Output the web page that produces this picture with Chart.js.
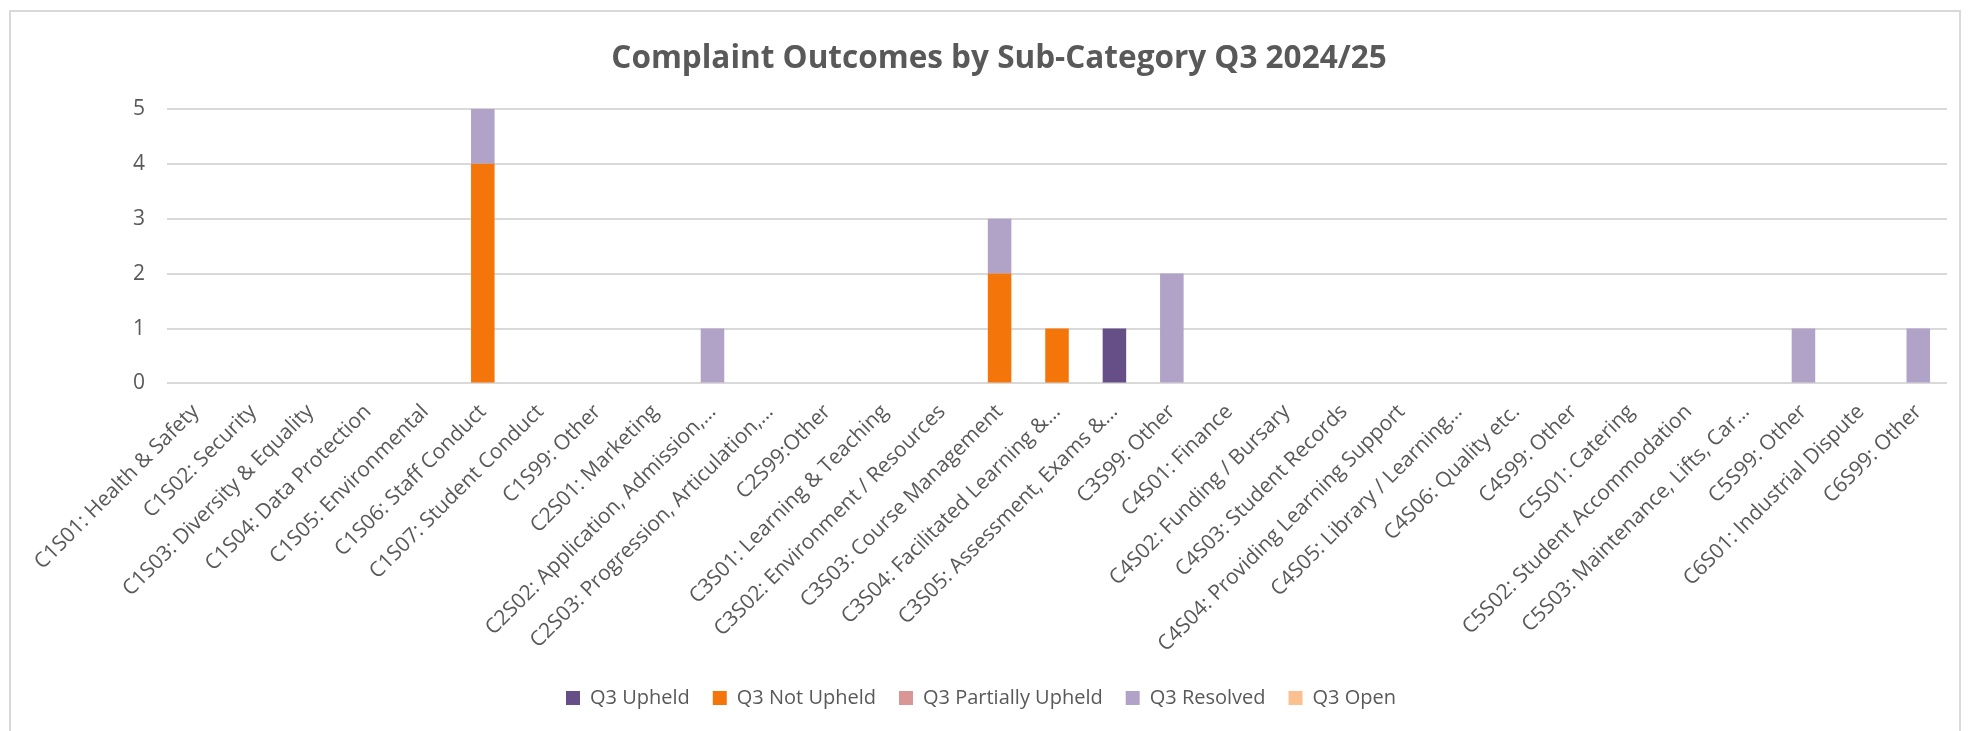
<!DOCTYPE html>
<html>
<head>
<meta charset="utf-8">
<script src="https://cdn.jsdelivr.net/npm/chart.js@4/dist/chart.umd.min.js"></script>
<style>
  html, body { margin: 0; padding: 0; background: #ffffff; overflow: hidden; }
  #wrap { position: relative; width: 1972px; height: 731px; }
  #frame { position: absolute; left: 9px; top: 10px; width: 1952px; height: 730px; border: 2px solid #d9d9d9; box-sizing: border-box; pointer-events: none; }
  canvas { position: absolute; left: 0; top: 0; }
</style>
</head>
<body>
<div id="wrap">
  <canvas id="c" width="1972" height="731"></canvas>
  <div id="frame"></div>
</div>
<script>
const categories = [
  "C1S01: Health & Safety", "C1S02: Security", "C1S03: Diversity & Equality", "C1S04: Data Protection",
  "C1S05: Environmental", "C1S06: Staff Conduct", "C1S07: Student Conduct", "C1S99: Other",
  "C2S01: Marketing", "C2S02: Application, Admission,…", "C2S03: Progression, Articulation,…", "C2S99:Other",
  "C3S01: Learning & Teaching", "C3S02: Environment / Resources", "C3S03: Course Management",
  "C3S04: Facilitated Learning &…", "C3S05: Assessment, Exams &…", "C3S99: Other",
  "C4S01: Finance", "C4S02: Funding / Bursary", "C4S03: Student Records", "C4S04: Providing Learning Support",
  "C4S05: Library / Learning…", "C4S06: Quality etc.", "C4S99: Other",
  "C5S01: Catering", "C5S02: Student Accommodation", "C5S03: Maintenance, Lifts, Car…", "C5S99: Other",
  "C6S01: Industrial Dispute", "C6S99: Other"
];
const q3Upheld =          [0,0,0,0,0,0,0,0, 0,0,0,0, 0,0,0,0,1,0, 0,0,0,0,0,0,0, 0,0,0,0, 0,0];
const q3NotUpheld =       [0,0,0,0,0,4,0,0, 0,0,0,0, 0,0,2,1,0,0, 0,0,0,0,0,0,0, 0,0,0,0, 0,0];
const q3PartiallyUpheld = [0,0,0,0,0,0,0,0, 0,0,0,0, 0,0,0,0,0,0, 0,0,0,0,0,0,0, 0,0,0,0, 0,0];
const q3Resolved =        [0,0,0,0,0,1,0,0, 0,1,0,0, 0,0,1,0,0,2, 0,0,0,0,0,0,0, 0,0,0,1, 0,1];
const q3Open =            [0,0,0,0,0,0,0,0, 0,0,0,0, 0,0,0,0,0,0, 0,0,0,0,0,0,0, 0,0,0,0, 0,0];
const seriesNames = ["Q3 Upheld", "Q3 Not Upheld", "Q3 Partially Upheld", "Q3 Resolved", "Q3 Open"];
const yTicks = [0, 1, 2, 3, 4, 5];
const titleText = "Complaint Outcomes by Sub-Category Q3 2024/25";

const colors = ["#654f86", "#f4760b", "#da9694", "#b1a2c7", "#fac090"];
const seriesData = [q3Upheld, q3NotUpheld, q3PartiallyUpheld, q3Resolved, q3Open];
const textColor = "#595959";
const font = "'Open Sans', 'DejaVu Sans', sans-serif";

const legendShift = {
  id: "legendShift",
  afterLayout(chart) {
    if (chart.legend) { chart.legend.left -= 18; chart.legend.right -= 18; }
  }
};

new Chart(document.getElementById("c"), {
  type: "bar",
  data: {
    labels: categories,
    datasets: seriesNames.map((name, i) => ({
      label: name,
      data: seriesData[i].map(v => v === 0 ? null : v),
      backgroundColor: colors[i],
      borderWidth: 0,
      barPercentage: 0.41,
      categoryPercentage: 1.0
    }))
  },
  plugins: [legendShift],
  options: {
    responsive: false,
    animation: false,
    devicePixelRatio: 1,
    layout: { padding: { left: 51, right: 25, top: 11, bottom: 13 } },
    plugins: {
      title: {
        display: true,
        text: titleText,
        color: textColor,
        font: { family: font, size: 31.5, weight: "bold", lineHeight: 1.2 },
        padding: { top: 29, bottom: 31 }
      },
      legend: {
        position: "bottom",
        labels: {
          color: textColor,
          font: { family: font, size: 20 },
          boxWidth: 14,
          boxHeight: 14,
          padding: 23
        }
      },
      tooltip: { enabled: false }
    },
    scales: {
      x: {
        stacked: true,
        grid: { display: false },
        border: { display: false },
        ticks: {
          color: textColor,
          font: { family: font, size: 21 },
          minRotation: 45,
          maxRotation: 45,
          autoSkip: false,
          padding: 8
        }
      },
      y: {
        stacked: true,
        min: 0,
        max: 5,
        afterBuildTicks: (axis) => { axis.ticks = yTicks.map(v => ({ value: v })); },
        afterFit: (axis) => { axis.width = 116; },
        grid: { color: "#d9d9d9", lineWidth: 2, drawTicks: false },
        border: { display: false },
        ticks: {
          color: textColor,
          font: { family: font, size: 21 },
          padding: 22,
          stepSize: 1
        }
      }
    }
  }
});
</script>
</body>
</html>
